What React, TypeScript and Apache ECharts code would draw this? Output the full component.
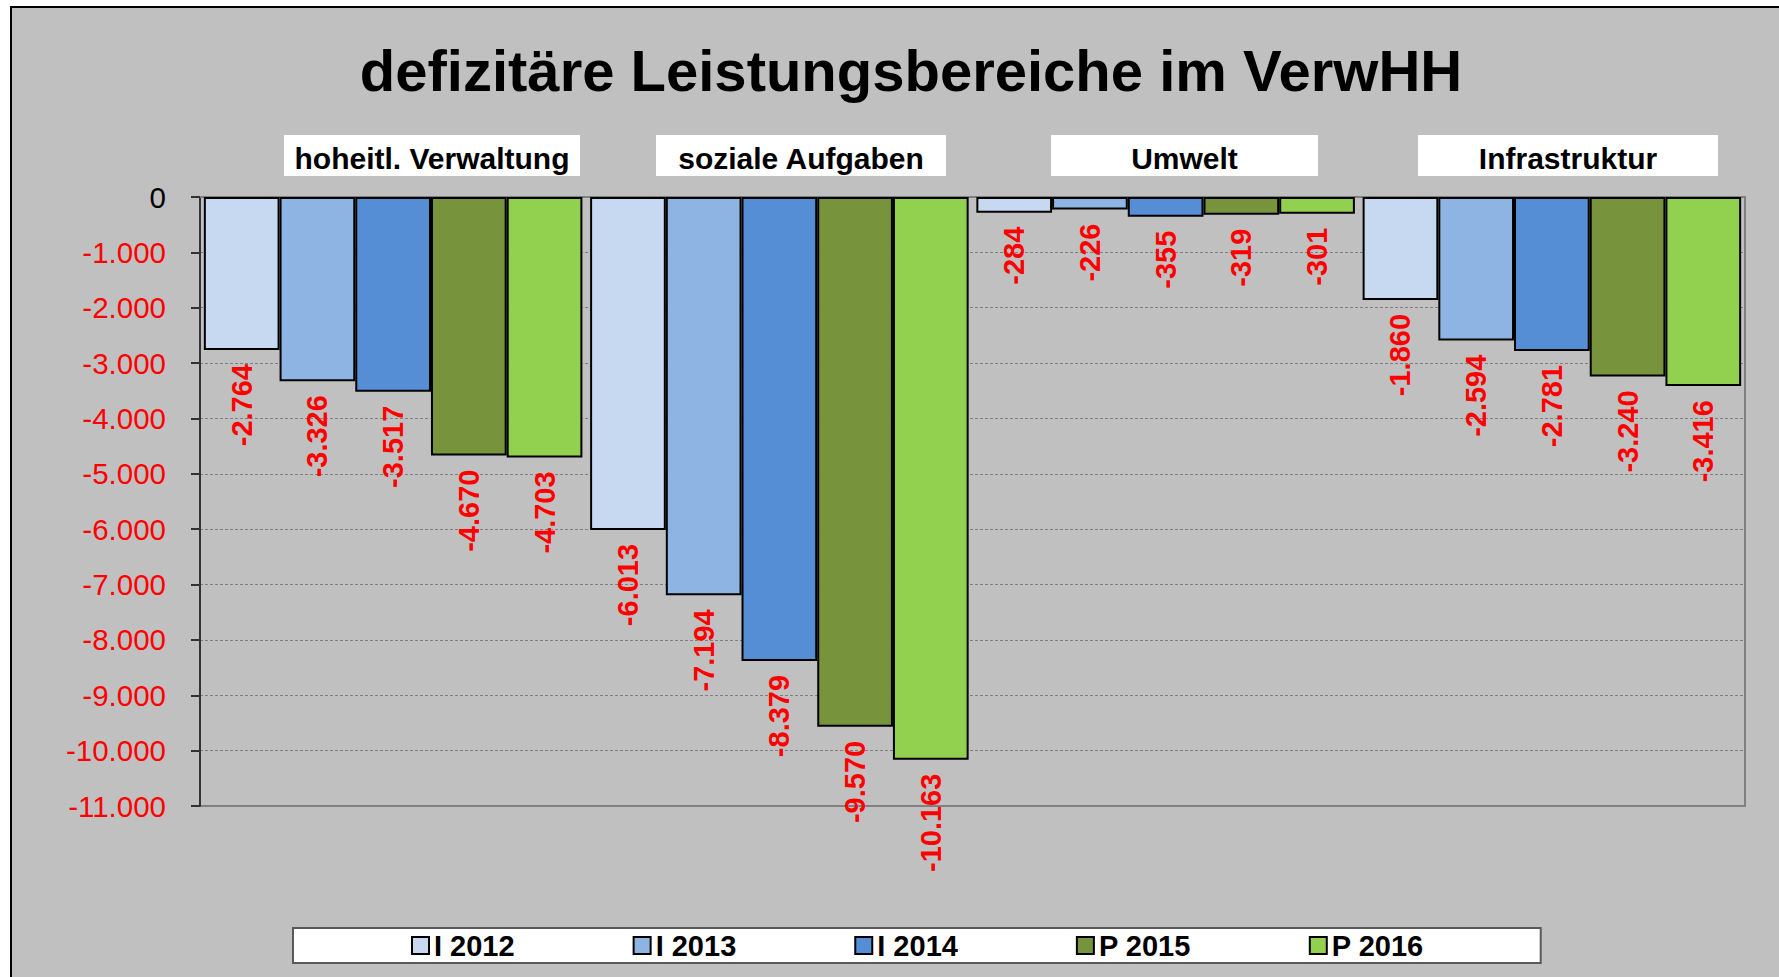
import React, { useEffect, useRef } from "react";
import * as echarts from "echarts";

const categories = ["hoheitl. Verwaltung", "soziale Aufgaben", "Umwelt", "Infrastruktur"];
const seriesNames = ["I 2012", "I 2013", "I 2014", "P 2015", "P 2016"];
const i2012 = [-2764, -6013, -284, -1860];
const i2013 = [-3326, -7194, -226, -2594];
const i2014 = [-3517, -8379, -355, -2781];
const p2015 = [-4670, -9570, -319, -3240];
const p2016 = [-4703, -10163, -301, -3416];
const seriesValues = [i2012, i2013, i2014, p2015, p2016];
const seriesColors = ["#C6D9F1", "#8EB4E3", "#558ED5", "#77933C", "#92D050"];
const titleText = "defizitäre Leistungsbereiche im VerwHH";

// layout of the category header boxes (x, y, width, height)
const headerBoxes = [
  [284, 135, 296, 41],
  [656, 135, 290, 41],
  [1051, 135, 267, 41],
  [1418, 135, 300, 41],
];

const FONT = "'Liberation Sans', Arial, sans-serif";

function fmt(v: number): string {
  const s = Math.abs(Math.round(v)).toString().replace(/\B(?=(\d{3})+(?!\d))/g, ".");
  return (v < 0 ? "-" : "") + s;
}

export default function App() {
  const ref = useRef<HTMLDivElement>(null);
  useEffect(() => {
    if (!ref.current) return;
    const chart = echarts.init(ref.current, undefined, { renderer: "svg" });
    const graphics: any[] = [
      {
        type: "rect",
        z: -100,
        silent: true,
        shape: { x: 11, y: 7, width: 1800, height: 1000 },
        style: { fill: "#C0C0C0", stroke: "#000000", lineWidth: 2 },
      },
    ];
    categories.forEach((c, i) => {
      const [x, y, w, h] = headerBoxes[i];
      graphics.push({
        type: "rect",
        z: 5,
        shape: { x, y, width: w, height: h },
        style: { fill: "#ffffff" },
      });
      graphics.push({
        type: "text",
        z: 6,
        x: x + w / 2,
        y: y + h / 2 + 3,
        style: {
          text: c,
          fill: "#000000",
          font: `bold 30px ${FONT}`,
          textAlign: "center",
          textVerticalAlign: "middle",
        },
      });
    });
    chart.setOption({
      animation: false,
      backgroundColor: "#ffffff",
      textStyle: { fontFamily: FONT },
      title: {
        text: titleText,
        left: 911,
        top: 41,
        textAlign: "center",
        padding: 0,
        textStyle: { fontSize: 58, fontWeight: "bold", color: "#000000", fontFamily: FONT },
      },
      legend: {
        data: seriesNames,
        left: 293,
        top: 928,
        padding: [3, 117, 3, 118],
        backgroundColor: "#ffffff",
        borderColor: "#595959",
        borderWidth: 2,
        itemWidth: 17,
        itemHeight: 17,
        itemGap: 118,
        icon: "rect",
        textStyle: { fontSize: 29, fontWeight: "bold", color: "#000000", fontFamily: FONT },
      },
      grid: {
        left: 200,
        right: 34,
        top: 197,
        bottom: 171,
        show: true,
        borderColor: "#808080",
        borderWidth: 2,
        backgroundColor: "transparent",
      },
      xAxis: {
        type: "category",
        data: categories,
        position: "top",
        axisLine: { show: true, lineStyle: { color: "#808080", width: 2 } },
        axisTick: { show: false },
        axisLabel: { show: false },
      },
      yAxis: {
        type: "value",
        min: -11000,
        max: 0,
        interval: 1000,
        axisLine: { show: true, lineStyle: { color: "#333333", width: 2 } },
        axisTick: { show: true, inside: false, length: 9, lineStyle: { color: "#333333", width: 2 } },
        axisLabel: {
          margin: 34,
          fontSize: 29.5,
          fontFamily: FONT,
          formatter: (v: number) => fmt(v),
          color: (v: any) => (Number(v) === 0 ? "#000000" : "#ff0000"),
        },
        splitLine: { show: true, lineStyle: { color: "#7f7f7f", width: 1, type: [3, 2] } },
      },
      graphic: graphics,
      series: seriesNames.map((name, i) => ({
        name,
        type: "bar",
        data: seriesValues[i],
        barGap: "0%",
        barCategoryGap: "2%",
        itemStyle: { color: seriesColors[i], borderColor: "#000000", borderWidth: 2 },
        label: {
          show: true,
          position: "bottom",
          distance: 14,
          rotate: 90,
          align: "right",
          verticalAlign: "middle",
          color: "#ff0000",
          fontSize: 29,
          fontWeight: "bold",
          fontFamily: FONT,
          formatter: (p: any) => fmt(p.value),
        },
      })),
    });
    return () => chart.dispose();
  }, []);
  return (
    <div
      ref={ref}
      style={{ position: "fixed", left: 0, top: 0, width: 1779, height: 977 }}
    />
  );
}
